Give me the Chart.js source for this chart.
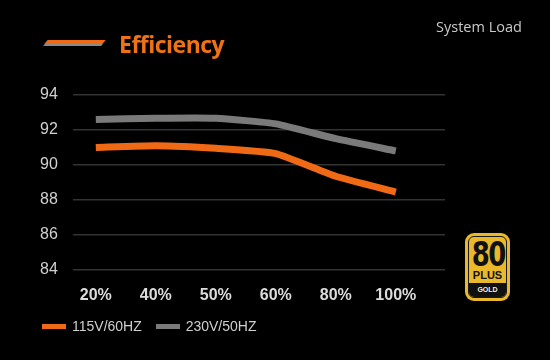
<!DOCTYPE html>
<html>
<head>
<meta charset="utf-8">
<script src="https://cdn.jsdelivr.net/npm/chart.js@4/dist/chart.umd.min.js"></script>
<style>
  html, body { margin:0; padding:0; background:#000; }
  #wrap { position:relative; width:550px; height:360px; background:#000; overflow:hidden; }
  #c { position:absolute; left:0; top:0; }
  .bar { position:absolute; transform:skewX(-40deg); }
  #title { position:absolute; left:119px; top:28px; font:bold 23px "Open Sans", sans-serif; color:#f07217; letter-spacing:-0.5px; }
  #sys { position:absolute; left:436px; top:17px; font:14.5px "Open Sans", sans-serif; color:#c8c8c8; }
  #legend { position:absolute; left:42px; top:318px; font:14px "Liberation Sans", Arial, sans-serif; color:#cfcfcf; white-space:nowrap; }
  #legend span.sw { display:inline-block; width:24px; height:5px; vertical-align:middle; margin-right:6px; position:relative; top:-1px; }
  #legend span.item { margin-right:10px; }
  #badge { position:absolute; left:465px; top:233px; width:45px; height:68px; border-radius:9px; background:#e9b92b; box-sizing:border-box; padding:3px; }
  #badge .in { width:100%; height:100%; border:1.5px solid #1a1a1a; border-radius:6px; box-sizing:border-box; overflow:hidden; text-align:center; position:relative; }
  #badge .n { font:bold 34px "Liberation Sans Narrow", "DejaVu Sans Condensed", sans-serif; color:#111; line-height:32px; margin-top:1px; letter-spacing:-2px; transform:scaleX(0.85); }
  #badge .p { font:bold 11px "Liberation Sans", Arial, sans-serif; color:#111; line-height:11px; }
  #badge .g { position:absolute; left:0; right:0; bottom:0; height:14px; background:#111; color:#eee; font:bold 7px "Liberation Sans", Arial, sans-serif; line-height:14px; }
</style>
</head>
<body>
<div id="wrap">
  <canvas id="c" width="550" height="360"></canvas>
  <div class="bar" style="left:44px; top:44px; width:58px; height:2px; background:#8a8a8a;"></div>
  <div class="bar" style="left:46px; top:40px; width:58px; height:4px; background:#f06a16;"></div>
  <div id="title">Efficiency</div>
  <div id="sys">System Load</div>
  <div id="legend">
    <span class="item"><span class="sw" style="background:#f06a16"></span>115V/60HZ</span>
    <span class="item"><span class="sw" style="background:#7a7a7a"></span>230V/50HZ</span>
  </div>
  <div id="badge"><div class="in">
    <div class="n">80</div>
    <div class="p">PLUS</div>
    <div class="g">GOLD</div>
  </div></div>
</div>
<script>
const loads = ['20%', '40%', '50%', '60%', '80%', '100%'];
const eff115 = [91.0, 91.1, 90.95, 90.65, 89.35, 88.45];
const eff230 = [92.6, 92.67, 92.67, 92.35, 91.5, 90.8];
const yTicks = [84, 86, 88, 90, 92, 94];

function pts(vals){ return vals.map((v,i)=>({x:i, y:v})); }

new Chart(document.getElementById('c'), {
  type: 'line',
  data: { datasets: [
    { label: '230V/50HZ', data: pts(eff230), borderColor: '#7a7a7a', borderWidth: 7, pointRadius: 0, tension: 0.15, borderCapStyle: 'butt' },
    { label: '115V/60HZ', data: pts(eff115), borderColor: '#f06a16', borderWidth: 7, pointRadius: 0, tension: 0.15, borderCapStyle: 'butt' }
  ] },
  options: {
    responsive: false, animation: false,
    layout: { padding: { left: 40, top: 95, right: 105, bottom: 47 } },
    plugins: { legend: { display: false }, title: { display: false }, tooltip: { enabled: false } },
    scales: {
      x: {
        type: 'linear', min: -0.38, max: 5.82,
        afterBuildTicks: s => { s.ticks = loads.map((l,i)=>({value:i})); },
        ticks: { callback: (v)=>loads[v], color: '#dcdcdc', font: { family: 'Liberation Sans', size: 16, weight: 'bold' }, padding: 8, maxRotation: 0, autoSkip: false },
        grid: { display: false }, border: { display: false }
      },
      y: {
        min: 84, max: 94,
        afterBuildTicks: s => { s.ticks = yTicks.map(v=>({value:v})); },
        afterFit: s => { s.width = 33; },
        ticks: { color: '#d0d0d0', font: { family: 'Liberation Sans', size: 16 }, crossAlign: 'far', padding: 0 },
        grid: { color: '#333333', lineWidth: 1.5, drawTicks: false }, border: { display: false }
      }
    }
  }
});
</script>
</body>
</html>
